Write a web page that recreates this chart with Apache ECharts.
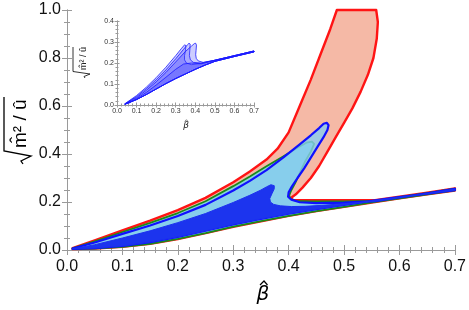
<!DOCTYPE html>
<html><head><meta charset="utf-8">
<script src="https://cdn.jsdelivr.net/npm/echarts@6/dist/echarts.min.js"></script>
<style>html,body{margin:0;padding:0;background:#fff}#c{width:469px;height:310px}</style>
</head><body><div id="c"></div>
<script>
// ---- tick labels ----
const mainXTicks = ['0.0','0.1','0.2','0.3','0.4','0.5','0.6','0.7'];
const mainYTicks = ['0.0','0.2','0.4','0.6','0.8','1.0'];
const insetXTicks = ['0.0','0.1','0.2','0.3','0.4','0.5','0.6','0.7'];
const insetYTicks = ['0.0','0.1','0.2','0.3','0.4'];

// ---- main chart regions (beta, sqrt(m^2/u)) ----
const redUpper = [[0.01,0.008],[0.05,0.04],[0.1,0.082],[0.15,0.122],[0.2,0.166],[0.25,0.217],[0.3,0.282],[0.33,0.327],[0.36,0.377],[0.38,0.422],[0.4,0.49],[0.42,0.6],[0.44,0.71],[0.46,0.83],[0.475,0.92],[0.487,1.0]];
const redRight = [[0.558,1.0],[0.561,0.95],[0.559,0.88],[0.553,0.8],[0.543,0.73],[0.53,0.66],[0.515,0.59],[0.5,0.53],[0.485,0.47],[0.47,0.41],[0.455,0.35],[0.44,0.3],[0.425,0.26],[0.413,0.232],[0.404,0.217],[0.408,0.209],[0.43,0.207],[0.5,0.207],[0.556,0.208],[0.6,0.222],[0.65,0.239],[0.7,0.257]];
const lowerEdge = [[0.7,0.248],[0.65,0.232],[0.6,0.215],[0.55,0.198],[0.5,0.18],[0.45,0.162],[0.4,0.142],[0.35,0.12],[0.3,0.097],[0.25,0.07],[0.2,0.046],[0.15,0.026],[0.1,0.013],[0.05,0.006],[0.01,0.004]];

const greenUpper = [[0.01,0.007],[0.05,0.036],[0.1,0.075],[0.15,0.113],[0.2,0.154],[0.25,0.203],[0.3,0.266],[0.33,0.306],[0.36,0.349],[0.39,0.39],[0.415,0.425],[0.432,0.447],[0.442,0.452]];
const greenRight = [[0.446,0.442],[0.44,0.41],[0.43,0.37],[0.42,0.32],[0.412,0.28],[0.405,0.25],[0.401,0.228],[0.403,0.213],[0.412,0.205],[0.44,0.202],[0.5,0.202],[0.556,0.205],[0.6,0.22],[0.65,0.237],[0.7,0.256]];

const blueUpper = [[0.01,0.006],[0.05,0.031],[0.1,0.067],[0.15,0.102],[0.2,0.142],[0.25,0.188],[0.3,0.248],[0.33,0.288],[0.36,0.333],[0.39,0.385],[0.42,0.44],[0.44,0.478],[0.455,0.508],[0.463,0.526],[0.469,0.53]];
const blueRight = [[0.472,0.52],[0.47,0.5],[0.463,0.47],[0.452,0.43],[0.44,0.385],[0.428,0.34],[0.416,0.3],[0.406,0.265],[0.4,0.24],[0.399,0.222],[0.405,0.21],[0.42,0.199],[0.45,0.195],[0.5,0.197],[0.556,0.204],[0.6,0.219],[0.65,0.236],[0.7,0.255]];
const blueLower = [[0.7,0.249],[0.65,0.235],[0.6,0.22],[0.55,0.205],[0.5,0.188],[0.45,0.17],[0.4,0.151],[0.35,0.13],[0.3,0.107],[0.25,0.08],[0.2,0.055],[0.15,0.033],[0.1,0.017],[0.05,0.008],[0.01,0.005]];

const darkUpper = [[0.01,0.005],[0.05,0.022],[0.1,0.05],[0.15,0.08],[0.2,0.114],[0.25,0.152],[0.3,0.198],[0.33,0.228],[0.35,0.25],[0.36,0.263],[0.368,0.272],[0.374,0.268]];
const darkRight = [[0.374,0.255],[0.37,0.235],[0.366,0.215],[0.367,0.2],[0.373,0.19],[0.385,0.184],[0.405,0.181],[0.43,0.182],[0.46,0.186],[0.5,0.193],[0.556,0.203],[0.6,0.218],[0.65,0.235],[0.7,0.254]];

// ---- inset regions ----
const insetLower = [[0.7,0.253],[0.6,0.231],[0.5,0.208],[0.45,0.19],[0.4,0.17],[0.35,0.148],[0.3,0.126],[0.25,0.102],[0.2,0.076],[0.15,0.05],[0.1,0.026],[0.04,0.004]];
const insetTail = [[0.5,0.213],[0.6,0.235],[0.7,0.257]];
const insetA = [[0.04,0.006],[0.1,0.045],[0.15,0.085],[0.2,0.13],[0.25,0.18],[0.3,0.235],[0.33,0.27],[0.346,0.287],[0.352,0.282],[0.35,0.26],[0.345,0.235],[0.345,0.215],[0.355,0.2],[0.38,0.192],[0.43,0.198]];
const insetB = [[0.04,0.005],[0.1,0.04],[0.15,0.078],[0.2,0.12],[0.25,0.167],[0.3,0.22],[0.34,0.265],[0.36,0.287],[0.368,0.294],[0.374,0.29],[0.372,0.26],[0.37,0.235],[0.375,0.215],[0.39,0.203],[0.43,0.2]];
const insetC = [[0.04,0.005],[0.1,0.035],[0.15,0.07],[0.2,0.11],[0.25,0.155],[0.3,0.205],[0.35,0.255],[0.38,0.28],[0.396,0.293],[0.402,0.294],[0.406,0.285],[0.404,0.26],[0.402,0.24],[0.405,0.222],[0.415,0.21],[0.44,0.203]];
const insetD = [[0.06,0.008],[0.1,0.03],[0.15,0.06],[0.2,0.095],[0.25,0.132],[0.3,0.17],[0.34,0.195],[0.38,0.2],[0.43,0.196]];

const redRegion = redUpper.concat(redRight, lowerEdge);
const greenRegion = greenUpper.concat(greenRight, lowerEdge);
const blueRegion = blueUpper.concat(blueRight, blueLower);
const darkRegion = darkUpper.concat(darkRight, blueLower);

function poly(points, style, xi, yi) {
  return {
    type: 'custom', xAxisIndex: xi, yAxisIndex: yi, clip: false, silent: true,
    data: [[points[0][0], points[0][1]]],
    renderItem: function (params, api) {
      return { type: 'polygon', shape: { points: points.map(p => api.coord(p)) }, style: style };
    }
  };
}

const FONT = 'Liberation Sans';
const frame = { show: true, lineStyle: { color: '#9a9a9a', width: 1 } };
function mainX(pos, labels) {
  return { gridIndex: 0, type: 'value', min: 0, max: 0.7, interval: 0.1, position: pos,
    axisLine: frame, splitLine: { show: false },
    axisTick: { inside: true, length: 5, lineStyle: { color: '#9a9a9a' } },
    minorTick: { show: true, splitNumber: 5, length: 3, lineStyle: { color: '#9a9a9a' } },
    axisLabel: { show: labels, color: '#111', fontSize: 16, fontFamily: FONT, margin: 9,
      formatter: v => mainXTicks[Math.round(v / 0.1)] } };
}
function mainY(pos, labels) {
  return { gridIndex: 0, type: 'value', min: 0, max: 1.0, interval: 0.2, position: pos,
    axisLine: frame, splitLine: { show: false },
    axisTick: { inside: true, length: 5, lineStyle: { color: '#9a9a9a' } },
    minorTick: { show: true, splitNumber: 4, length: 3, lineStyle: { color: '#9a9a9a' } },
    axisLabel: { show: labels, color: '#111', fontSize: 16, fontFamily: FONT, margin: 6,
      formatter: v => mainYTicks[Math.round(v / 0.2)] } };
}
function insX(pos, labels) {
  return { gridIndex: 1, type: 'value', min: 0, max: 0.7, interval: 0.1, position: pos,
    axisLine: frame, splitLine: { show: false },
    axisTick: { inside: true, length: 2.5, lineStyle: { color: '#9a9a9a' } },
    minorTick: { show: true, splitNumber: 5, length: 1.5, lineStyle: { color: '#9a9a9a' } },
    axisLabel: { show: labels, color: '#333', fontSize: 7, fontFamily: FONT, margin: 3,
      formatter: v => insetXTicks[Math.round(v / 0.1)] } };
}
function insY(pos, labels) {
  return { gridIndex: 1, type: 'value', min: 0, max: 0.4, interval: 0.1, position: pos,
    axisLine: frame, splitLine: { show: false },
    axisTick: { inside: true, length: 2.5, lineStyle: { color: '#9a9a9a' } },
    minorTick: { show: true, splitNumber: 5, length: 1.5, lineStyle: { color: '#9a9a9a' } },
    axisLabel: { show: labels, color: '#333', fontSize: 7, fontFamily: FONT, margin: 3,
      formatter: v => insetYTicks[Math.round(v / 0.1)] } };
}

const insetStyle = { fill: 'rgba(60,60,255,0.26)', stroke: '#1a1aff', lineWidth: 0.8, lineJoin: 'round' };

function betaHat(x, y, size, color) {
  const s = size / 20;
  return { type: 'group', x: x, y: y, children: [
    { type: 'text', x: 0, y: 0, style: { text: '\u03b2', font: 'italic ' + size + 'px "DejaVu Sans"', fill: color, textAlign: 'center', textVerticalAlign: 'middle' } },
    { type: 'polyline', shape: { points: [[-3 * s, -10 * s], [1 * s, -14 * s], [4.5 * s, -10 * s]] }, style: { stroke: color, lineWidth: 1.2 * s, fill: null } }
  ] };
}

const chart = echarts.init(document.getElementById('c'), null, { renderer: 'canvas' });
chart.setOption({
  animation: false,
  backgroundColor: '#fff',
  grid: [
    { left: 67, right: 12, top: 10, bottom: 60 },
    { left: 117, right: 215, top: 21, bottom: 205 }
  ],
  xAxis: [mainX('bottom', true), mainX('top', false), insX('bottom', true), insX('top', false)],
  yAxis: [mainY('left', true), mainY('right', false), insY('left', true), insY('right', false)],
  series: [
    poly(redRegion, { fill: '#f5b9a6', stroke: '#ff1414', lineWidth: 2.4, lineJoin: 'round' }, 0, 0),
    poly(greenRegion, { fill: '#87d2dc', stroke: '#1a8a1a', lineWidth: 1.8, lineJoin: 'round' }, 0, 0),
    poly(blueRegion, { fill: 'rgba(135,205,240,0.8)', stroke: '#1010ff', lineWidth: 2.2, lineJoin: 'round' }, 0, 0),
    poly(darkRegion, { fill: '#1c34ee', stroke: '#1c30f0', lineWidth: 1, lineJoin: 'round' }, 0, 0),
    poly(insetA.concat(insetTail, insetLower), insetStyle, 2, 2),
    poly(insetB.concat(insetTail, insetLower), insetStyle, 2, 2),
    poly(insetC.concat(insetTail, insetLower), insetStyle, 2, 2),
    poly(insetD.concat(insetTail, insetLower), insetStyle, 2, 2)
  ],
  graphic: [
    { type: 'group', x: 20, y: 128, rotation: Math.PI / 2, children: [
      { type: 'polyline', shape: { points: [[-36, 3], [-33, 1], [-28, 11], [-23, -16], [31, -16]] },
        style: { stroke: '#000', lineWidth: 1.3, fill: null } },
      { type: 'text', x: -20, y: 1, style: { text: 'm\u0302\u00b2 / \u00fb', font: '19px "Liberation Sans"', fill: '#000', textAlign: 'left', textVerticalAlign: 'middle' } }
    ] },
    { type: 'group', x: 84, y: 60, rotation: Math.PI / 2, children: [
      { type: 'polyline', shape: { points: [[-18, 1], [-16.5, 0], [-14, 6], [-11.5, -11], [13, -11]] },
        style: { stroke: '#000', lineWidth: 0.8, fill: null } },
      { type: 'text', x: -10, y: 0, style: { text: 'm\u0302\u00b2 / \u00fb', font: '9px "Liberation Sans"', fill: '#222', textAlign: 'left', textVerticalAlign: 'middle' } }
    ] },
    betaHat(263, 295, 20, '#000'),
    betaHat(186, 126, 9, '#222')
  ]
});
</script>
</body></html>
